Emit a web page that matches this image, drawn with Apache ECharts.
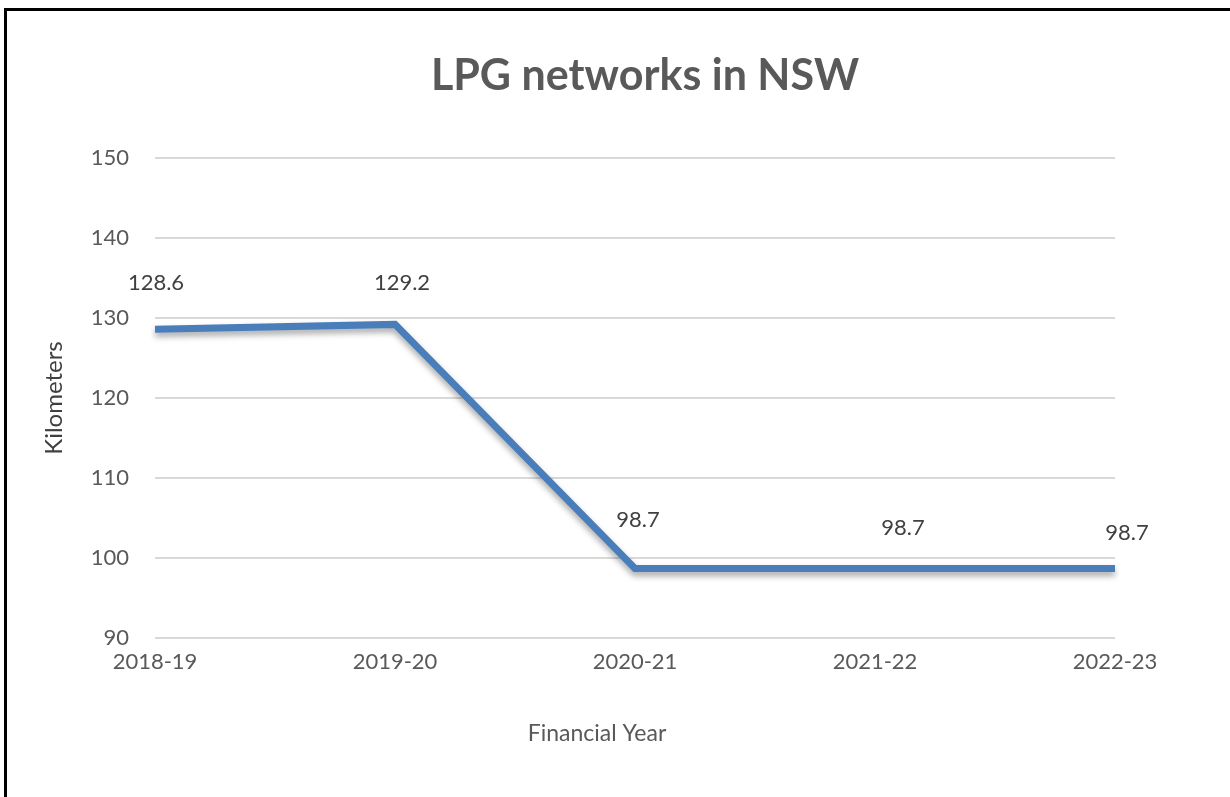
<!DOCTYPE html>
<html><head><meta charset="utf-8">
<script src="https://cdn.jsdelivr.net/npm/echarts@6/dist/echarts.min.js"></script>
<style>
html,body{margin:0;padding:0;background:#fff;}
#frame{position:absolute;left:4px;top:8px;width:1240px;height:800px;border-left:3px solid #000;border-top:3px solid #000;box-sizing:border-box;}
#c{position:absolute;left:0;top:0;width:1230px;height:797px;}
</style></head>
<body>
<div id="frame"></div>
<div id="c"></div>
<script>
const categories = ['2018-19','2019-20','2020-21','2021-22','2022-23'];
const kilometers = [128.6, 129.2, 98.7, 98.7, 98.7];
const titleText = 'LPG networks in NSW';
const yName = 'Kilometers';
const xName = 'Financial Year';

// label placement tweaks (presentation only): label centre relative to its point, in px
const labelShift = [[1,-46],[7,-41],[3,-48],[28,-40],[12,-35]];

const chart = echarts.init(document.getElementById('c'), null, {renderer:'canvas'});
const font = 'Lato, "Open Sans", sans-serif';
chart.setOption({
  animation:false,
  title:{text:titleText,left:640,textAlign:'center',top:50,textStyle:{fontFamily:font,fontSize:43,fontWeight:'bold',color:'#595959'}},
  grid:{left:155,right:115,top:158,bottom:159},
  xAxis:{type:'category',data:categories,boundaryGap:false,
    name:xName,nameLocation:'middle',nameGap:84,
    nameTextStyle:{fontFamily:font,fontSize:23,color:'#595959',padding:[0,76,0,0]},
    axisLine:{show:false},axisTick:{show:false},
    axisLabel:{fontFamily:font,fontSize:22,color:'#595959',margin:13}},
  yAxis:{type:'value',min:90,max:150,interval:10,
    name:yName,nameLocation:'middle',nameGap:89,nameRotate:90,
    nameTextStyle:{fontFamily:font,fontSize:24,color:'#404040'},
    axisLine:{show:false},axisTick:{show:false},
    axisLabel:{fontFamily:font,fontSize:22,color:'#595959',margin:26},
    splitLine:{lineStyle:{color:'#d9d9d9',width:2}}},
  series:[{type:'line',
    data:kilometers.map((v,i)=>({value:v,label:{position:[1+labelShift[i][0],1+labelShift[i][1]],align:'center',verticalAlign:'middle'}})),
    symbol:'circle',symbolSize:2,showSymbol:true,
    itemStyle:{color:'rgba(74,126,187,0)',borderWidth:0},
    lineStyle:{color:'#4a7ebb',width:7,shadowColor:'rgba(0,0,0,0.35)',shadowBlur:6,shadowOffsetY:4,cap:'butt',join:'miter'},
    label:{show:true,fontFamily:font,fontSize:22,color:'#404040'},
    labelLayout:{hideOverlap:false}
  }]
});
</script>
</body></html>
